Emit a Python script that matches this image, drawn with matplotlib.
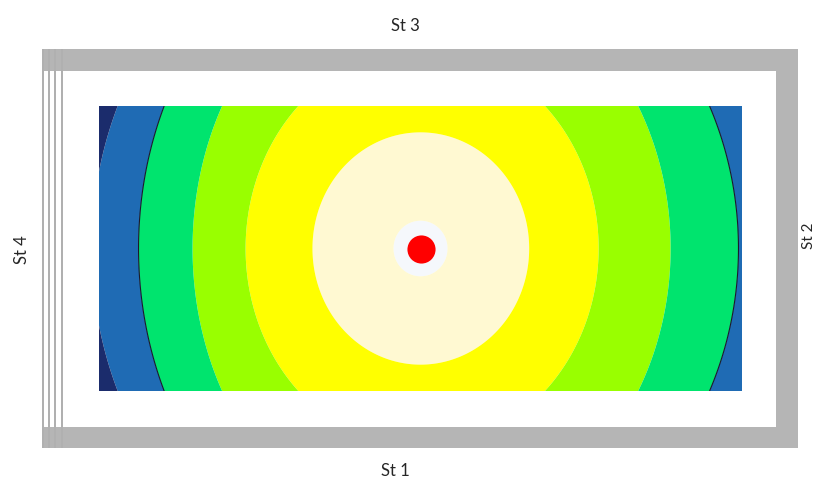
import numpy as np
import matplotlib
matplotlib.use("Agg")
import matplotlib.pyplot as plt
from matplotlib.patches import Rectangle

# ---------------- data ----------------
room_width = 20.0
room_depth = 8.0
source_x = [10.0]
source_y = [4.0]
# contour zone boundaries (inner -> outer): halo, cream, yellow, lime, green, blue
zone_names = ["halo", "cream", "yellow", "lime", "green", "blue"]
radius_left = [0.84, 3.36, 5.44, 7.09, 8.77, 10.23]
radius_right = [0.84, 3.38, 5.54, 7.78, 9.89, 11.50]
radius_vert = [0.78, 3.26, 5.59, 8.12, 9.60, 10.25]
station_labels = ["St 1", "St 2", "St 3", "St 4"]

# ---------------- style ----------------
zone_colors = ["#F5F8FC", "#FFF9D2", "#FFFF00", "#99FF00",
               "#00E46E", "#1F6BB4", "#1B2C6C"]
W, H = 818, 484

fig = plt.figure(figsize=(W / 100, H / 100), dpi=100)
fig.patch.set_facecolor("white")

# background / frame axes in pixel coordinates
bg = fig.add_axes([0, 0, 1, 1], zorder=-1)
bg.set_xlim(0, W)
bg.set_ylim(H, 0)
bg.axis("off")
gray = "#B5B5B5"
bg.add_patch(Rectangle((42, 49), 756, 22, color=gray, lw=0))   # top band
bg.add_patch(Rectangle((42, 427), 756, 21, color=gray, lw=0))  # bottom band
bg.add_patch(Rectangle((776, 49), 22, 399, color=gray, lw=0))  # right band
for lx in [42, 48, 54, 61]:
    bg.add_patch(Rectangle((lx, 49), 2.2, 399, color="#B0B0B0", lw=0))

font = ["Lato", "DejaVu Sans"]
tc = "#262626"
bg.text(395, 471, station_labels[0], ha="center", va="center",
        fontsize=12, family=font, color=tc)
bg.text(809, 236, station_labels[1], ha="center", va="center",
        fontsize=11, family=font, color=tc, rotation=90)
bg.text(405, 26, station_labels[2], ha="center", va="center",
        fontsize=12, family=font, color=tc)
bg.text(22, 250, station_labels[3], ha="center", va="center",
        fontsize=12, family=font, color=tc, rotation=90)

# ---------------- contour field ----------------
ax = fig.add_axes([99 / W, (H - 391) / H, 643 / W, 285 / H])
x = np.linspace(0, room_width, 1300)
y = np.linspace(0, room_depth, 600)
X, Y = np.meshgrid(x, y)
dx = X - source_x[0]
dy = Y - source_y[0]
F = np.zeros_like(X)
for aL, aR, b in zip(radius_left, radius_right, radius_vert):
    a = np.where(dx < 0, aL, aR)
    e = np.sqrt((dx / a) ** 2 + (dy / b) ** 2)
    F += np.clip((e - 1) / 0.03 + 0.5, 0, 1)

levels = np.arange(-0.5, len(zone_names) + 1, 1.0)
ax.contourf(X, Y, F, levels=levels, colors=zone_colors, antialiased=True)
ax.contour(X, Y, F, levels=[4.5], colors="#1a1a2a", linewidths=0.8)
ax.scatter(source_x, source_y, s=410, color="#FF0000", zorder=5, lw=0)
ax.set_xlim(0, room_width)
ax.set_ylim(0, room_depth)
ax.axis("off")

fig.savefig("out.png", dpi=100)
